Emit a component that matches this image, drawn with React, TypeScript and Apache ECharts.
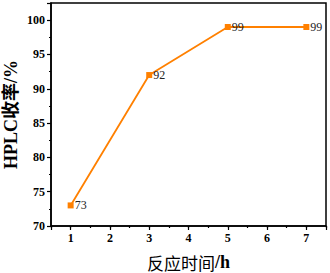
import React, { useEffect, useRef } from "react";
import * as echarts from "echarts";

const hours = [1, 3, 5, 7];
const yields = [73, 92, 99, 99];
const xNameMain = "反应时间";
const xNameUnit = "/h";
const yName = "HPLC收率/%";

export default function App() {
  const ref = useRef<HTMLDivElement>(null);
  useEffect(() => {
    if (!ref.current) return;
    const chart = echarts.init(ref.current, null, { renderer: "svg" });
    const serif = "'Liberation Serif', 'Times New Roman', serif";
    const axisLineStyle = { color: "#000", width: 1.5 };
    chart.setOption({
      animation: false,
      grid: {
        left: 51,
        right: 4,
        top: 3,
        bottom: 47,
        show: true,
        borderColor: "#000",
        borderWidth: 1.5,
        containLabel: false,
        outerBoundsMode: "none",
      },
      xAxis: [
        {
          type: "value",
          min: 0.5,
          max: 7.5,
          splitNumber: 7,
          position: "bottom",
          name: "{a|" + xNameMain + "}{b|" + xNameUnit + "}",
          nameLocation: "middle",
          nameGap: 27,
          nameMoveOverlap: false,
          nameTextStyle: {
            color: "#000",
            rich: {
              a: { fontFamily: "'Noto Sans CJK SC', sans-serif", fontSize: 17, color: "#000" },
              b: { fontFamily: serif, fontWeight: "bold", fontSize: 18, color: "#000" },
            },
          },
          axisLine: { show: true, lineStyle: axisLineStyle },
          axisTick: { show: true, inside: false, length: 4, lineStyle: { color: "#000", width: 1.2 } },
          axisLabel: {
            color: "#000",
            fontFamily: serif,
            fontWeight: "bold",
            fontSize: 12,
            margin: 6,
            formatter: (v: number) => (Number.isInteger(v) ? String(v) : ""),
          },
          splitLine: { show: false },
        },
        {
          type: "value",
          min: 0.5,
          max: 7.5,
          interval: 0.5,
          position: "bottom",
          axisLine: { show: false },
          axisTick: { show: true, inside: false, length: 2, lineStyle: { color: "#000", width: 1.2 } },
          axisLabel: { show: false },
          splitLine: { show: false },
        },
      ],
      yAxis: [
        {
          type: "value",
          min: 70,
          max: 102.5,
          interval: 5,
          position: "left",
          name: yName,
          nameLocation: "middle",
          nameGap: 31,
          nameMoveOverlap: false,
          nameTextStyle: {
            fontFamily: serif + ", 'Noto Sans CJK SC'",
            fontWeight: "bold",
            fontSize: 18,
            lineHeight: 18,
            color: "#000",
          },
          axisLine: { show: true, lineStyle: axisLineStyle },
          axisTick: { show: true, inside: false, length: 4, lineStyle: { color: "#000", width: 1.2 } },
          axisLabel: {
            color: "#000",
            fontFamily: serif,
            fontWeight: "bold",
            fontSize: 12,
            margin: 6,
            formatter: (v: number) => (v % 5 === 0 ? String(v) : ""),
          },
          splitLine: { show: false },
        },
        {
          type: "value",
          min: 70,
          max: 102.5,
          interval: 2.5,
          position: "left",
          axisLine: { show: false },
          axisTick: { show: true, inside: false, length: 2, lineStyle: { color: "#000", width: 1.2 } },
          axisLabel: { show: false },
          splitLine: { show: false },
        },
      ],
      series: [
        {
          type: "line",
          xAxisIndex: 0,
          yAxisIndex: 0,
          data: hours.map((h, i) => [h, yields[i]]),
          symbol: "rect",
          symbolSize: 6,
          itemStyle: { color: "#FF8000" },
          lineStyle: { color: "#FF8000", width: 1.8 },
          label: {
            show: true,
            position: "right",
            distance: 1,
            fontFamily: serif,
            fontSize: 12,
            color: "#222",
          },
        },
      ],
    });
    return () => chart.dispose();
  }, []);
  return <div ref={ref} style={{ width: 330, height: 273, position: "absolute", left: 0, top: 0 }} />;
}
